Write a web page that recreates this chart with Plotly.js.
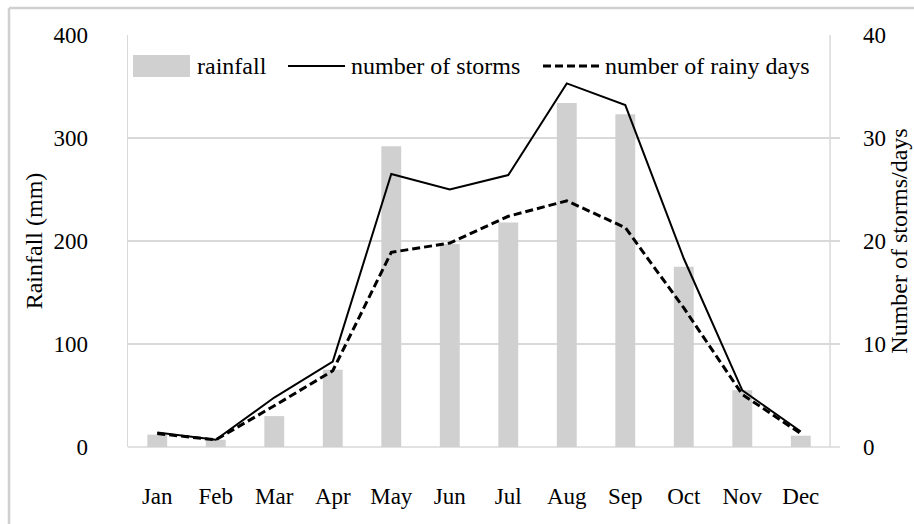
<!DOCTYPE html>
<html>
<head>
<meta charset="utf-8">
<script src="https://cdn.plot.ly/plotly-3.0.1.min.js"></script>
<style>html,body{margin:0;padding:0;background:#fff;}#chart{width:914px;height:524px;}</style>
</head>
<body>
<div id="chart"></div>
<script>
const months = ["Jan","Feb","Mar","Apr","May","Jun","Jul","Aug","Sep","Oct","Nov","Dec"];
const rainfall = [12, 7, 30, 75, 292, 197, 218, 334, 323, 175, 55, 11];
const storms = [1.4, 0.7, 4.8, 8.3, 26.5, 25.0, 26.4, 35.3, 33.2, 18.3, 5.5, 1.5];
const rainyDays = [1.3, 0.7, 4.0, 7.4, 18.9, 19.8, 22.4, 23.9, 21.3, 13.5, 5.1, 1.3];
const yTicks = [0, 100, 200, 300, 400];
const y2Ticks = [0, 10, 20, 30, 40];
const legendNames = ["rainfall", "number of storms", "number of rainy days"];

const W = 914, H = 524;
const L = 128, R = 74, T = 35, B = 77;
const pw = W - L - R, ph = H - T - B;
const px = v => (v - L) / pw;
const py = v => (H - B - v) / ph;

const font = "Liberation Serif, Times New Roman, serif";
const gray = "#d0d0d0";
const grid = "#d9d9d9";
const dashStyle = "8px,4px";

const traces = [
  {type: "bar", x: months, y: rainfall, name: legendNames[0], marker: {color: gray}, showlegend: false, yaxis: "y"},
  {type: "scatter", mode: "lines", x: months, y: storms, name: legendNames[1], line: {color: "#000", width: 2}, yaxis: "y2", showlegend: false},
  {type: "scatter", mode: "lines", x: months, y: rainyDays, name: legendNames[2], line: {color: "#000", width: 3, dash: dashStyle}, yaxis: "y2", showlegend: false}
];

// manual legend (symbols + text)
const legY = py(66);
const legendItems = [
  {sym: "rect", x0: 133, x1: 190, tx: 196},
  {sym: "solid", x0: 288, x1: 345, tx: 350},
  {sym: "dash", x0: 543, x1: 603, tx: 604}
];
const legShapes = legendItems.map(it => it.sym === "rect"
  ? {type: "rect", xref: "paper", yref: "paper", x0: px(it.x0), x1: px(it.x1), y0: py(77), y1: py(55), fillcolor: gray, line: {width: 0}}
  : {type: "line", xref: "paper", yref: "paper", x0: px(it.x0), x1: px(it.x1), y0: legY, y1: legY,
     line: {color: "#000", width: it.sym === "dash" ? 3 : 2, dash: it.sym === "dash" ? dashStyle : "solid"}});
const legAnn = legendItems.map((it, i) => ({xref: "paper", yref: "paper", x: px(it.tx), y: legY, xanchor: "left", yanchor: "middle",
  text: legendNames[i], showarrow: false, font: {family: font, size: 24, color: "#000"}, borderpad: 0}));

const layout = {
  width: W, height: H,
  margin: {l: L, r: R, t: T, b: B, pad: 0},
  paper_bgcolor: "#fff", plot_bgcolor: "#fff",
  font: {family: font, size: 23, color: "#000"},
  bargap: 0.66,
  showlegend: false,
  xaxis: {type: "category", range: [-0.5, 11.67], showgrid: false, zeroline: false, showline: false,
          ticks: "", ticklabelstandoff: 33, tickfont: {family: font, size: 23}, fixedrange: true},
  yaxis: {range: [0, 400], tickvals: yTicks, ticktext: yTicks.map(String), showgrid: true, gridcolor: grid, gridwidth: 1.5,
          zeroline: false, showline: true, linecolor: grid, linewidth: 1.5, ticks: "", ticklabelstandoff: 34,
          title: {text: "Rainfall (mm)", font: {family: font, size: 24}, standoff: 4}, fixedrange: true},
  yaxis2: {range: [0, 40], tickvals: y2Ticks, ticktext: y2Ticks.map(String), overlaying: "y", side: "right", showgrid: false,
           zeroline: false, showline: false, ticks: "", ticklabelstandoff: 22,
           title: {text: "Number of storms/days", font: {family: font, size: 24}, standoff: 4}, fixedrange: true},
  annotations: legAnn,
  shapes: [
    {type: "line", xref: "paper", yref: "paper", x0: 0, x1: 1, y0: 0, y1: 0, line: {color: grid, width: 1.5}, layer: "below"},
    {type: "line", xref: "x", yref: "paper", x0: 11.5, x1: 11.5, y0: 0, y1: 1, line: {color: grid, width: 1.5}, layer: "below"},
    {type: "line", xref: "paper", yref: "paper", x0: px(9), x1: px(914), y0: py(8), y1: py(8), line: {color: gray, width: 2.5}},
    {type: "line", xref: "paper", yref: "paper", x0: px(9), x1: px(9), y0: py(8), y1: py(524), line: {color: gray, width: 2.5}}
  ].concat(legShapes)
};

Plotly.newPlot("chart", traces, layout, {displayModeBar: false, staticPlot: true});
</script>
</body>
</html>
